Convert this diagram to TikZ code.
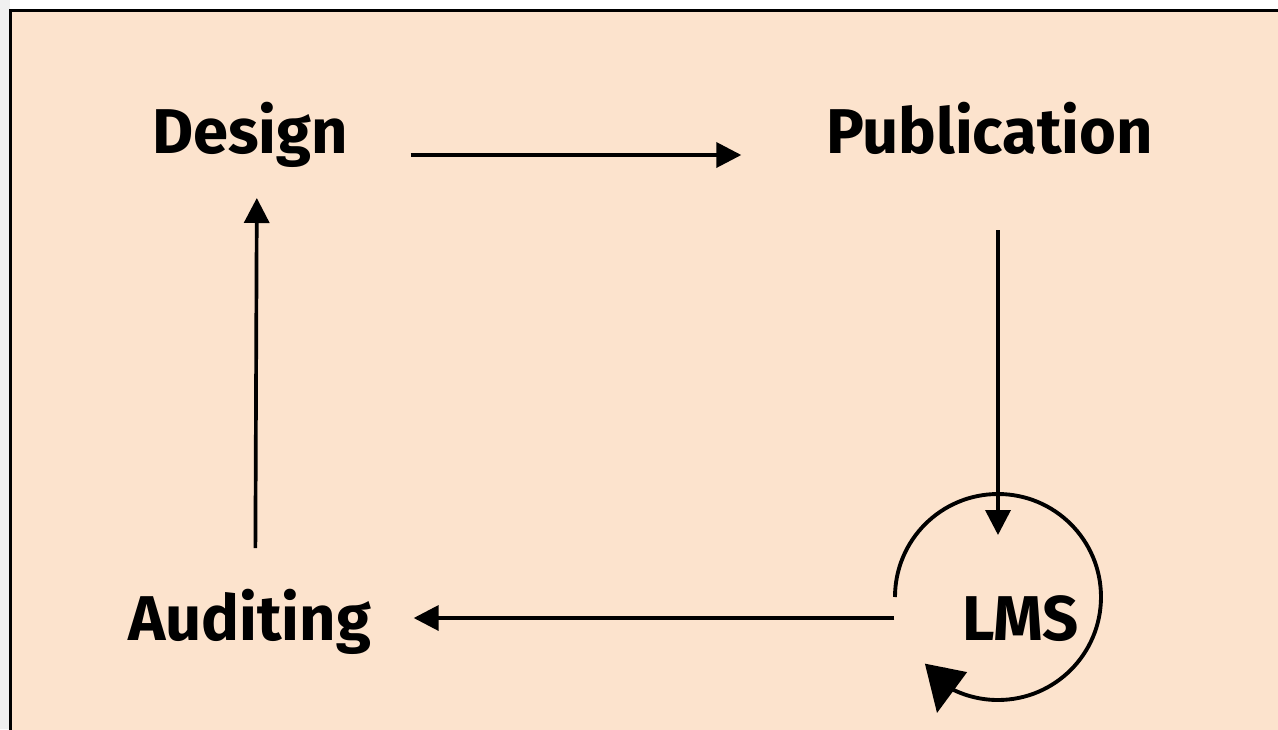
\documentclass[tikz,border=0pt]{standalone}
\usepackage{fontspec}
\setmainfont{Fira Sans}
\usetikzlibrary{arrows.meta}
\definecolor{peach}{RGB}{252,227,205}
\definecolor{sidegray}{RGB}{240,240,240}
\tikzset{
	stage/.style={font=\fontsize{18}{21}\selectfont\bfseries,inner sep=0pt,align=center},
	flow/.style={line width=1.05pt,-{Triangle[length=0.25cm,width=0.25cm]}},
	cycle line/.style={line width=1.1pt}
}
\begin{document}
\begin{tikzpicture}
		\useasboundingbox (0,0) rectangle (12.78,7.29);
		% page & box
		\fill[white] (0,0) rectangle (12.78,7.29);
		\fill[sidegray] (0,0) rectangle (0.1,7.29);
		\draw[line width=0.6pt,fill=peach] (0.105,-0.2) rectangle (13,7.185);
		% labels
		\node[stage,text width=1.91cm,anchor=base] (design) at (2.475,5.76) {Design};
		\node[stage,text width=3.24cm,anchor=base] (publication) at (9.88,5.76) {Publication};
		\node[stage,text width=2.45cm,anchor=base] (auditing) at (2.495,0.89) {Auditing};
		\node[stage,text width=1.35cm,anchor=base] (lms) at (10.205,0.89) {LMS};
		% arrows
		\draw[flow,shorten <=0.67cm,shorten >=0.84cm] ([yshift=-0.02cm]design.base east) -- ([yshift=-0.02cm]publication.base west);
		\draw[flow,shorten <=0.77cm,shorten >=1.05cm] ([xshift=0.1cm]publication.base) -- ([xshift=-0.225cm]lms.base);
		\draw[flow,shorten <=0.58cm,shorten >=0.41cm] ([yshift=0.22cm]lms.base west) -- ([yshift=0.22cm]auditing.base east);
		\draw[flow,shorten <=0.92cm,shorten >=0.45cm] ([xshift=0.055cm]auditing.base) -- ([xshift=0.095cm]design.base);
		% loop round the LMS
		\draw[cycle line] ([shift={(-1.255,0.43)}]lms.base) arc[start angle=180,end angle=-117,radius=1.03];
		\coordinate (loopbase) at ([shift={(-0.745,-0.28)}]lms.base);
		\coordinate (looptip) at ([shift={(-0.835,-0.73)}]lms.base);
		\draw[line width=1.1pt,-{Triangle[length=0.46cm,width=0.42cm]}] (loopbase) -- (looptip);
	\end{tikzpicture}
\end{document}
